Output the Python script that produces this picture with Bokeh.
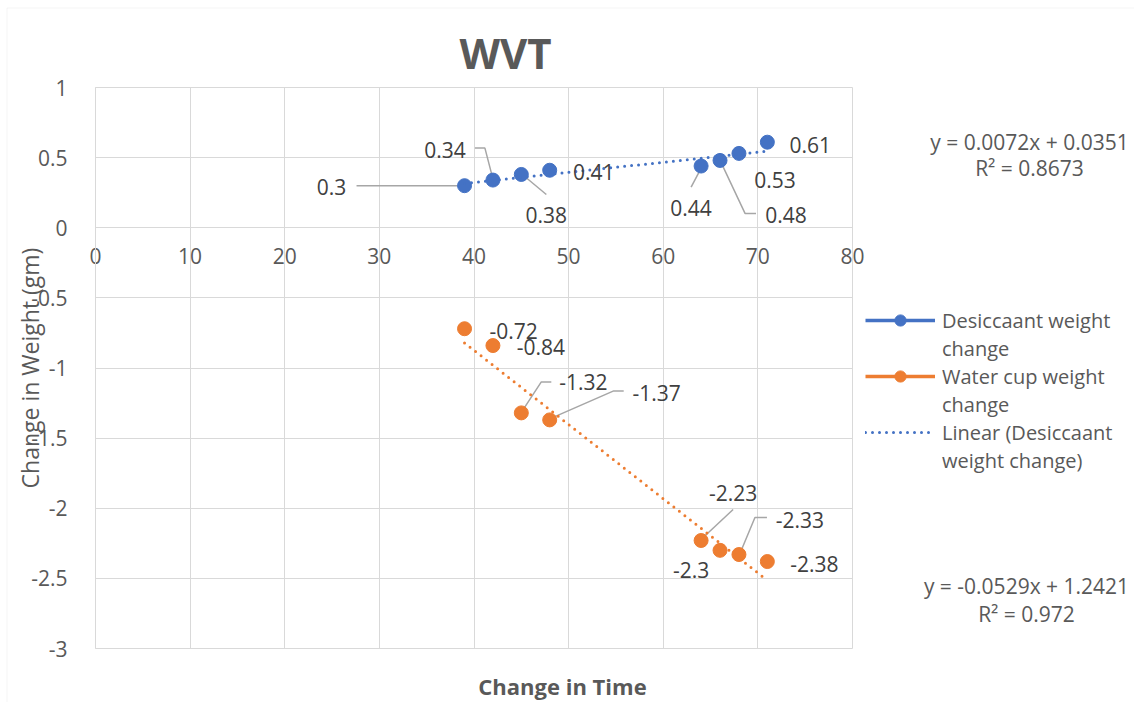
from bokeh.plotting import figure
from bokeh.models import (ColumnDataSource, Range1d, SingleIntervalTicker, CustomJSTickFormatter,
                          Legend, LegendItem, Label, BoxAnnotation)
from bokeh.embed import file_html
from bokeh.resources import INLINE

# ---- data -------------------------------------------------------------
time_change = [39, 42, 45, 48, 64, 66, 68, 71]
desiccant_change = [0.3, 0.34, 0.38, 0.41, 0.44, 0.48, 0.53, 0.61]
water_cup_change = [-0.72, -0.84, -1.32, -1.37, -2.23, -2.3, -2.33, -2.38]

# linear trendlines: slope, intercept, R^2
desiccant_fit = (0.0072, 0.0351, 0.8673)
water_cup_fit = (-0.0529, 1.2421, 0.972)

x_bounds = (0, 80)
y_bounds = (-3, 1)
x_tick_step = 10
y_tick_step = 0.5

# ---- layout -----------------------------------------------------------
# The frame fills the whole page; the axes sit at fixed locations inside it.
W, H = 1134, 702
LEFT, RIGHT, TOP, BOTTOM = 95, 852, 87, 648     # where the axis box lands on the page
UX = (x_bounds[1] - x_bounds[0]) / (RIGHT - LEFT)   # data units per pixel
UY = (y_bounds[1] - y_bounds[0]) / (BOTTOM - TOP)
x_start = x_bounds[0] - LEFT * UX
x_end = x_bounds[1] + (W - RIGHT) * UX
y_end = y_bounds[1] + TOP * UY
y_start = y_bounds[0] - (H - BOTTOM) * UY


def px_x(px):
    return x_start + px * UX


def px_y(py):
    return y_end - py * UY


BLUE = "#4472C4"
ORANGE = "#ED7D31"
TEXT = "#595959"
LABEL = "#404040"
GRID = "#D9D9D9"
LEADER = "#A6A6A6"
FONT = "Open Sans"

# label placement (pixel offsets from each point) and leader-line paths
desiccant_offsets = [(-133, 1), (-48, -30), (25, 41), (44, 2), (-10, 42), (66, 55), (36, 27), (43, 3)]
desiccant_leaders = {
    0: [(-108, 0), (-4, 0)],
    1: [(-18, -32), (-8, -32), (-1, -5)],
    2: [(1, 0), (25, 20)],
    4: [(-10, 21), (-1, 4)],
    5: [(1, 2), (25, 53), (36, 53)],
}
water_offsets = [(49, 2), (48, 1), (62, -31), (107, -27), (32, -48), (-29, 20), (61, -35), (47, 2)]
water_leaders = {
    2: [(1, -2), (20, -31), (30, -31)],
    3: [(0, -1), (64, -29), (74, -29)],
    4: [(1, -2), (32, -31)],
    6: [(1, -1), (16, -37), (28, -37)],
}

p = figure(width=W, height=H, x_range=Range1d(x_start, x_end), y_range=Range1d(y_start, y_end),
           output_backend="svg", toolbar_location=None,
           min_border_left=0, min_border_right=0, min_border_top=0, min_border_bottom=0)
p.background_fill_color = "white"
p.border_fill_color = "white"
p.outline_line_color = None

# axes pinned at x = 0 and y = 0
p.xaxis.fixed_location = 0
p.yaxis.fixed_location = 0
p.xaxis.bounds = x_bounds
p.yaxis.bounds = y_bounds
p.xaxis.ticker = SingleIntervalTicker(interval=x_tick_step)
p.yaxis.ticker = SingleIntervalTicker(interval=y_tick_step)
p.yaxis.formatter = CustomJSTickFormatter(code="return String(Math.round(tick * 10) / 10)")
for ax in (p.xaxis, p.yaxis):
    ax.major_tick_line_color = None
    ax.minor_tick_line_color = None
    ax.major_label_text_font = FONT
    ax.major_label_text_font_size = "21px"
    ax.major_label_text_color = TEXT
p.xaxis.axis_line_color = GRID
p.yaxis.axis_line_color = GRID
p.xaxis.major_label_standoff = 14
p.yaxis.major_label_standoff = 22

p.xgrid.bounds = x_bounds
p.xgrid.cross_bounds = y_bounds
p.ygrid.bounds = y_bounds
p.ygrid.cross_bounds = x_bounds
p.grid.grid_line_color = GRID
p.grid.grid_line_width = 1

# chart area border
p.add_layout(BoxAnnotation(left=px_x(6.5), right=px_x(1300), top=px_y(7.5), bottom=px_y(900),
                           fill_alpha=0, line_color=GRID, line_width=1))


def leader_paths(xs, ys, leaders):
    lx, ly = [], []
    for i, path in leaders.items():
        lx.append([xs[i] + ox * UX for ox, oy in path])
        ly.append([ys[i] - oy * UY for ox, oy in path])
    return lx, ly


for ys, leaders in ((desiccant_change, desiccant_leaders), (water_cup_change, water_leaders)):
    lx, ly = leader_paths(time_change, ys, leaders)
    p.multi_line(lx, ly, line_color=LEADER, line_width=1.5)

# series: markers only on the chart; the connecting line is kept hidden for the legend key
src_d = ColumnDataSource(dict(x=time_change, y=desiccant_change))
src_w = ColumnDataSource(dict(x=time_change, y=water_cup_change))
key_d = p.line("x", "y", source=src_d, line_color=BLUE, line_width=3.5, visible=False)
key_w = p.line("x", "y", source=src_w, line_color=ORANGE, line_width=3.5, visible=False)
blank_key = p.line("x", "y", source=src_d, line_alpha=0, visible=False)
pts_d = p.scatter("x", "y", source=src_d, size=14, fill_color=BLUE, line_color=BLUE)
pts_w = p.scatter("x", "y", source=src_w, size=14, fill_color=ORANGE, line_color=ORANGE)

# trendlines
tx = [min(time_change), max(time_change)]
trend_d = p.line(tx, [desiccant_fit[0] * t + desiccant_fit[1] for t in tx],
                 line_color=BLUE, line_width=3, line_dash="0 7", line_cap="round")
trend_w = p.line(tx, [water_cup_fit[0] * t + water_cup_fit[1] for t in tx],
                 line_color=ORANGE, line_width=3, line_dash="0 7", line_cap="round")

# data labels
for ys, offs in ((desiccant_change, desiccant_offsets), (water_cup_change, water_offsets)):
    src = ColumnDataSource(dict(x=time_change, y=ys, text=[str(v) for v in ys],
                                xo=[o[0] for o in offs], yo=[o[1] for o in offs]))
    p.text("x", "y", text="text", source=src, x_offset="xo", y_offset="yo",
           text_align="center", text_baseline="middle", text_font={"value": FONT},
           text_font_size="21px", text_color=LABEL)

# legend: each entry wraps onto a second row that carries no key
legend_rows = [
    ("Desiccaant weight", [key_d, pts_d]),
    ("change", [blank_key]),
    ("Water cup weight", [key_w, pts_w]),
    ("change", [blank_key]),
    ("Linear (Desiccaant", [trend_d]),
    ("weight change)", [blank_key]),
]
legend = Legend(items=[LegendItem(label=t, renderers=r) for t, r in legend_rows],
                location=(865, H - 474), glyph_width=70, glyph_height=28, label_height=28,
                label_standoff=7, padding=0, margin=0, spacing=0,
                border_line_color=None, background_fill_alpha=0,
                label_text_font=FONT, label_text_font_size="20px", label_text_color=TEXT)
p.add_layout(legend)


def fit_text(fit):
    m, b, r2 = fit
    sign = "+" if b >= 0 else "-"
    return f"y = {m}x {sign} {abs(b)}", f"R² = {r2}"


for fit, (cx, cy1, cy2) in ((desiccant_fit, (1029, 141, 167)), (water_cup_fit, (1026, 585, 613))):
    eq, r2 = fit_text(fit)
    for t, cy in ((eq, cy1), (r2, cy2)):
        p.add_layout(Label(x=px_x(cx), y=px_y(cy), text=t, text_align="center",
                           text_baseline="middle", text_font=FONT, text_font_size="21px",
                           text_color=TEXT))

# titles
p.add_layout(Label(x=px_x(505), y=px_y(52), text="WVT", text_align="center",
                   text_baseline="middle", text_font=FONT, text_font_size="42px",
                   text_font_style="bold", text_color=TEXT))
p.add_layout(Label(x=px_x(562), y=px_y(685), text="Change in Time", text_align="center",
                   text_baseline="middle", text_font=FONT, text_font_size="22px",
                   text_font_style="bold", text_color=TEXT))
p.add_layout(Label(x=px_x(29), y=px_y(367.5), text="Change in Weight (gm)", angle=90,
                   angle_units="deg", text_align="center", text_baseline="middle",
                   text_font=FONT, text_font_size="23px", text_color=TEXT))

open("out.html", "w").write(file_html(p, INLINE))
